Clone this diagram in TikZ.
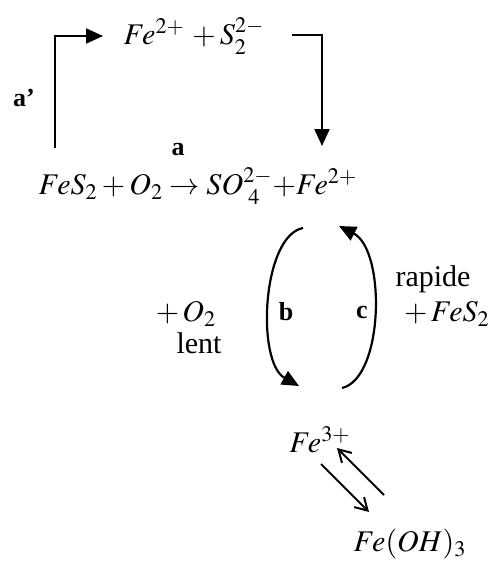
\documentclass[tikz,border=0pt]{standalone}
\usepackage{mathptmx}
\usepackage{fontspec}
\setmainfont{Liberation Serif}
\usetikzlibrary{arrows.meta}

\begin{document}
\begin{tikzpicture}[
    x=0.5pt,y=-0.5pt,
    freccia/.style={draw=black,line width=1.1pt,-{Triangle[length=8.5pt,width=7.5pt]}},
    equil/.style={draw=black,line width=1pt,-{Straight Barb[length=6pt,width=7pt]}},
    testo/.style={inner sep=0pt,font=\fontsize{15}{17}\selectfont},
    lettera/.style={inner sep=0pt,font=\fontsize{13}{15}\selectfont\bfseries}]

  \useasboundingbox (0,0) rectangle (493,567);

  % ---- specie chimiche -------------------------------------------------
  \node[testo] (ferroso) at (194,36)  {$Fe^{2+}\,+S_2^{2-}$};
  \node[testo] (pirite)  at (198,186) {$FeS_2+O_2\rightarrow SO^{2-}_{\;4}{+}Fe^{2+}$};
  \node[testo] (ferrico) at (320,440) {$Fe^{3+}$};
  \node[testo] (idross)  at (410,544) {$Fe(OH)_3$};

  % ---- etichette -------------------------------------------------------
  \node[lettera] (la1) at (24,98)   {a'};
  \node[lettera] (la)  at (178,150) {a};
  \node[lettera] (lb)  at (286,312) {b};
  \node[lettera] (lc)  at (362,312) {c};
  \node[testo]   (ossi)  at (186,314) {$+\,O_2$};
  \node[testo]   (lento) at (199,343) {lent};
  \node[testo]   (rapi)  at (433,279) {rapide};
  \node[testo]   (piri2) at (447,314) {$+\,FeS_2$};

  % ---- coordinate ------------------------------------------------------
  \coordinate (p1) at (55,148);   % base del ramo a'
  \coordinate (p2) at (55,36);
  \coordinate (p3) at (103,36);
  \coordinate (q1) at (292,35);
  \coordinate (q2) at (322,35);
  \coordinate (q3) at (322,146);

  \coordinate (b1) at (303,228);  % ciclo b
  \coordinate (b2) at (299,386);
  \coordinate (c1) at (342,388);  % ciclo c
  \coordinate (c2) at (339,226);

  \coordinate (e1) at (321,464);  % equilibrio
  \coordinate (e2) at (369,512);
  \coordinate (e3) at (384,495);
  \coordinate (e4) at (337,448);

  % ---- archi -----------------------------------------------------------
  % (a') ramo superiore
  \draw[freccia] (p1) -- (p2) -- (p3);
  \draw[freccia] (q1) -- (q2) -- (q3);

  % (b) e (c) ciclo
  \draw[freccia] (b1) .. controls (262,236) and (256,362) .. (b2);
  \draw[freccia] (c1) .. controls (384,378) and (386,250) .. (c2);

  % precipitazione
  \draw[equil] (e1) -- (e2);
  \draw[equil] (e3) -- (e4);

\end{tikzpicture}
\end{document}
